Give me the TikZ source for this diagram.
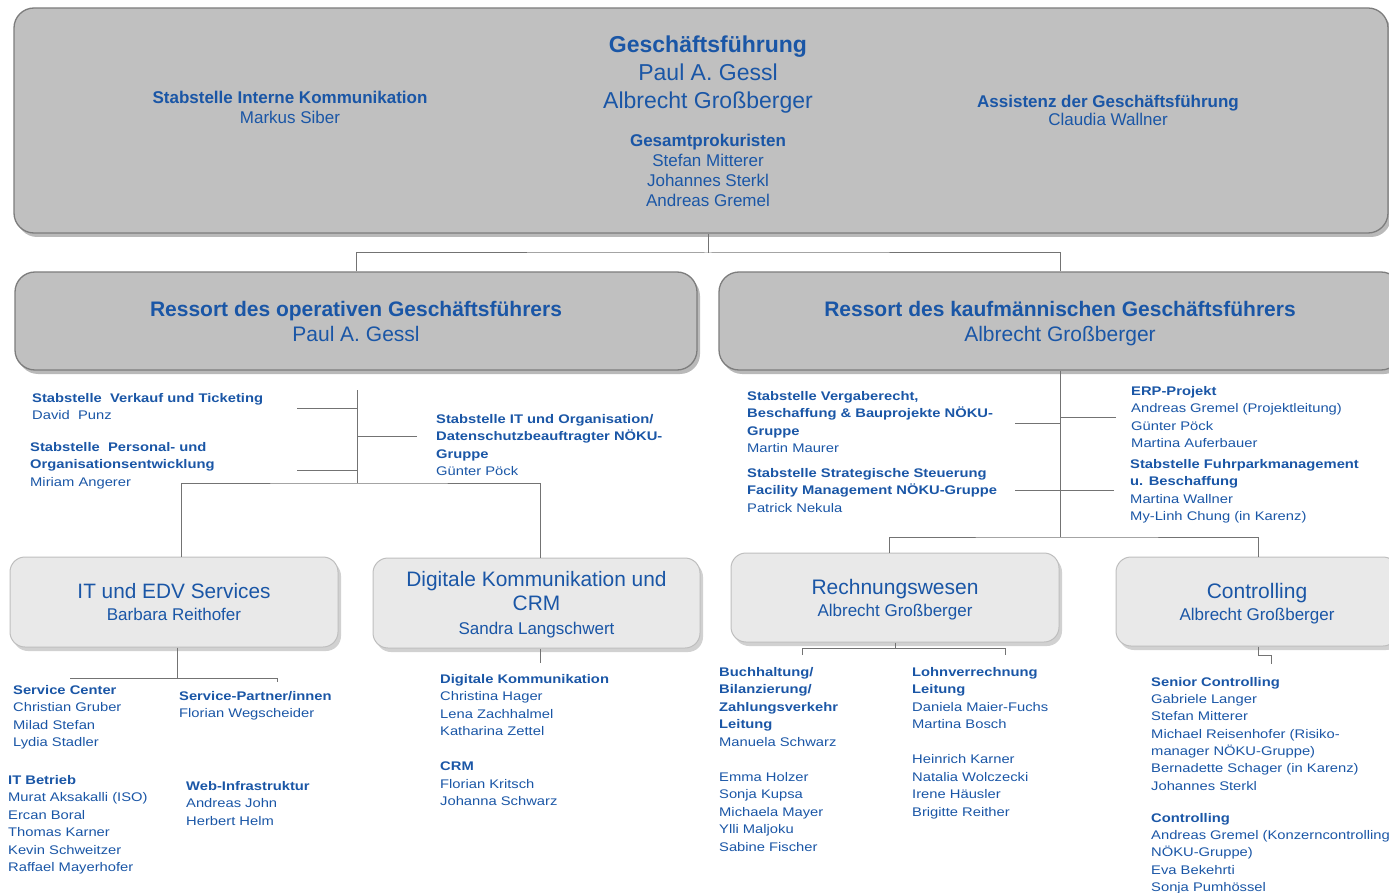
\documentclass[tikz,border=0pt]{standalone}
\usepackage{fontspec}
\setmainfont{Liberation Sans}
\newfontfamily\smallfam[FakeStretch=1.18]{Liberation Sans}
\usetikzlibrary{shadows,calc}
\definecolor{tblue}{RGB}{26,86,166}
\definecolor{boxdark}{RGB}{192,192,192}
\definecolor{boxlight}{RGB}{233,233,233}
\definecolor{edgedark}{RGB}{125,125,125}
\definecolor{edgelight}{RGB}{190,190,190}
\definecolor{linec}{RGB}{115,115,115}
\newcommand\fsm{\smallfam\fontsize{12.5}{17.5}\selectfont}
\begin{document}
\begin{tikzpicture}[x=1pt,y=-1pt,
  bigbox/.style={draw=edgedark, line width=1.3pt, fill=boxdark, rounded corners=20pt, text depth=0pt,
    drop shadow={shadow xshift=3pt,shadow yshift=-4pt,fill=black!50,opacity=0.55}},
  lowbox/.style={draw=edgelight, line width=1pt, fill=boxlight, rounded corners=15pt,
    text=tblue, align=center, inner sep=0pt, text depth=0pt,
    drop shadow={shadow xshift=3pt,shadow yshift=-4pt,fill=black!40,opacity=0.45}},
  conn/.style={draw=linec, line width=1pt},
  grp/.style={text=tblue, inner sep=0pt, align=left, anchor=north west, font=\fsm},
  ctr/.style={text=tblue, inner sep=0pt, align=center, anchor=north}]
\useasboundingbox (0,0) rectangle (1389,893);

% ---------- boxes ----------
\node[bigbox, minimum width=1374pt, minimum height=225pt] (gf) at (701,120.5) {};
\node[bigbox, minimum width=682pt, minimum height=98pt, text=tblue, align=center,
  font=\fontsize{21}{25}\selectfont] (rop) at (356,321)
  {\textbf{Ressort des operativen Geschäftsführers}\\Paul A. Gessl};
\node[bigbox, minimum width=682pt, minimum height=98pt, text=tblue, align=center,
  font=\fontsize{21}{25}\selectfont] (rkf) at (1060,321)
  {\textbf{Ressort des kaufmännischen Geschäftsführers}\\Albrecht Großberger};

\node[lowbox, minimum width=328pt, minimum height=90pt, font=\fontsize{20.8}{22}\selectfont] (it) at (174,602)
  {IT und EDV Services\\{\fontsize{17}{22}\selectfont Barbara Reithofer}};
\node[lowbox, minimum width=327pt, minimum height=90pt, font=\fontsize{20.9}{24}\selectfont] (dk) at (536.5,603)
  {Digitale Kommunikation und\\CRM\\{\fontsize{17}{24}\selectfont Sandra Langschwert}};
\node[lowbox, minimum width=328pt, minimum height=89pt, font=\fontsize{21}{22}\selectfont] (rw) at (895,597.5)
  {Rechnungswesen\\{\fontsize{17}{22}\selectfont Albrecht Großberger}};
\node[lowbox, minimum width=282pt, minimum height=89pt, font=\fontsize{21}{22}\selectfont] (co) at (1257,601.5)
  {Controlling\\{\fontsize{17}{22}\selectfont Albrecht Großberger}};

% ---------- top box texts ----------
\node[ctr, font=\fontsize{23}{28}\selectfont] (gft) at (708,35.5)
  {\textbf{Geschäftsführung}\\Paul A. Gessl\\Albrecht Großberger};
\node[ctr, font=\fontsize{17}{20}\selectfont] (gpk) at (708,134)
  {\textbf{Gesamtprokuristen}\\Stefan Mitterer\\Johannes Sterkl\\Andreas Gremel};
\node[ctr, font=\fontsize{17}{20}\selectfont] (sik) at (290,91)
  {\textbf{Stabstelle Interne Kommunikation}\\Markus Siber};
\node[ctr, font=\fontsize{17}{18}\selectfont] (asg) at (1108,95)
  {\textbf{Assistenz der Geschäftsführung}\\Claudia Wallner};

% ---------- staff groups ----------
\node[grp] (verk) at (32,393) {\textbf{Stabstelle~ Verkauf und Ticketing}\\David~ Punz};
\node[grp] (pers) at (30,442) {\textbf{Stabstelle~ Personal- und}\\\textbf{Organisationsentwicklung}\\Miriam Angerer};
\node[grp] (itorg) at (436,414) {\textbf{Stabstelle IT und Organisation/}\\\textbf{Datenschutzbeauftragter NÖKU-}\\\textbf{Gruppe}\\Günter Pöck};
\node[grp] (verg) at (747,391) {\textbf{Stabstelle Vergaberecht,}\\\textbf{Beschaffung \& Bauprojekte NÖKU-}\\\textbf{Gruppe}\\Martin Maurer};
\node[grp] (fac) at (747,468) {\textbf{Stabstelle Strategische Steuerung}\\\textbf{Facility Management NÖKU-Gruppe}\\Patrick Nekula};
\node[grp] (erp) at (1131,386) {\textbf{ERP-Projekt}\\Andreas Gremel (Projektleitung)\\Günter Pöck\\Martina Auferbauer};
\node[grp] (fuhr) at (1130,459) {\textbf{Stabstelle Fuhrparkmanagement}\\\textbf{u. Beschaffung}\\Martina Wallner\\My-Linh Chung (in Karenz)};

% ---------- lower groups ----------
\node[grp] (sc) at (13,685) {\textbf{Service Center}\\Christian Gruber\\Milad Stefan\\Lydia Stadler};
\node[grp] (sp) at (179,691) {\textbf{Service-Partner/innen}\\Florian Wegscheider};
\node[grp] (itb) at (8,775) {\textbf{IT Betrieb}\\Murat Aksakalli (ISO)\\Ercan Boral\\Thomas Karner\\Kevin Schweitzer\\Raffael Mayerhofer};
\node[grp] (web) at (186,781) {\textbf{Web-Infrastruktur}\\Andreas John\\Herbert Helm};
\node[grp] (dig) at (440,674) {\textbf{Digitale Kommunikation}\\Christina Hager\\Lena Zachhalmel\\Katharina Zettel\\[17.5pt]\textbf{CRM}\\Florian Kritsch\\Johanna Schwarz};
\node[grp] (buch) at (719,667) {\textbf{Buchhaltung/}\\\textbf{Bilanzierung/}\\\textbf{Zahlungsverkehr}\\\textbf{Leitung}\\Manuela Schwarz\\[17.5pt]Emma Holzer\\Sonja Kupsa\\Michaela Mayer\\Ylli Maljoku\\Sabine Fischer};
\node[grp] (lohn) at (912,667) {\textbf{Lohnverrechnung}\\\textbf{Leitung}\\Daniela Maier-Fuchs\\Martina Bosch\\[17.5pt]Heinrich Karner\\Natalia Wolczecki\\Irene Häusler\\Brigitte Reither};
\node[grp, font=\smallfam\fontsize{12.5}{17.3}\selectfont] (scon) at (1151,677) {\textbf{Senior Controlling}\\Gabriele Langer\\Stefan Mitterer\\Michael Reisenhofer (Risiko-\\manager NÖKU-Gruppe)\\Bernadette Schager (in Karenz)\\Johannes Sterkl\\[15pt]\textbf{Controlling}\\Andreas Gremel (Konzerncontrolling\\NÖKU-Gruppe)\\Eva Bekehrti\\Sonja Pumhössel};

% ---------- connectors: top ----------
\coordinate (j0) at (708,253);
\draw[conn] (gf.south -| j0) -- (j0);
\draw[conn] (rop.north) |- (j0) -| (rkf.north);

% left staff
\coordinate (lt) at (357,390);
\coordinate (lb) at (357,483);
\coordinate (s1) at (297,408);
\coordinate (s2) at (297,470);
\coordinate (s3) at (417,436);
\draw[conn] (lt) -- (lb);
\draw[conn] (s1) -- (s1 -| lt);
\draw[conn] (s2) -- (s2 -| lt);
\draw[conn] (s3) -- (s3 -| lt);
\draw[conn] ($(it.north)+(7,0)$) |- (lb) -| ($(dk.north)+(3.5,0)$);

% right staff
\coordinate (rb) at (1060,537);
\coordinate (r1) at (1015,423);
\coordinate (r2) at (1116,417);
\coordinate (r3) at (1015,490);
\coordinate (r4) at (1114,490);
\draw[conn] (rkf.south) -- (rb);
\draw[conn] (r1) -- (r1 -| rb);
\draw[conn] (r2) -- (r2 -| rb);
\draw[conn] (r3) -- (r3 -| rb);
\draw[conn] (r4) -- (r4 -| rb);
\draw[conn] ($(rw.north)+(-6,0)$) |- (rb) -| ($(co.north)+(1,0)$);

% lower connectors
\coordinate (ia) at (177,678);
\coordinate (il) at (70,678);
\coordinate (ir) at (277,678);
\draw[conn] (it.south -| ia) -- (ia);
\draw[conn] (il) -- (ir) -- ++(0,4);
\coordinate (da) at (540,663);
\draw[conn] (dk.south -| da) -- (da);
\coordinate (ra) at (895,648);
\coordinate (rl) at (802,648);
\coordinate (rr) at (1005,648);
\draw[conn] (rw.south -| ra) -- (ra);
\draw[conn] (rl) ++(0,7) -- (rl) -- (rr) -- ++(0,7);
\coordinate (ca) at (1258,655);
\coordinate (cb) at (1271,664);
\draw[conn] (co.south -| ca) -- (ca) -| (cb);
\end{tikzpicture}
\end{document}
